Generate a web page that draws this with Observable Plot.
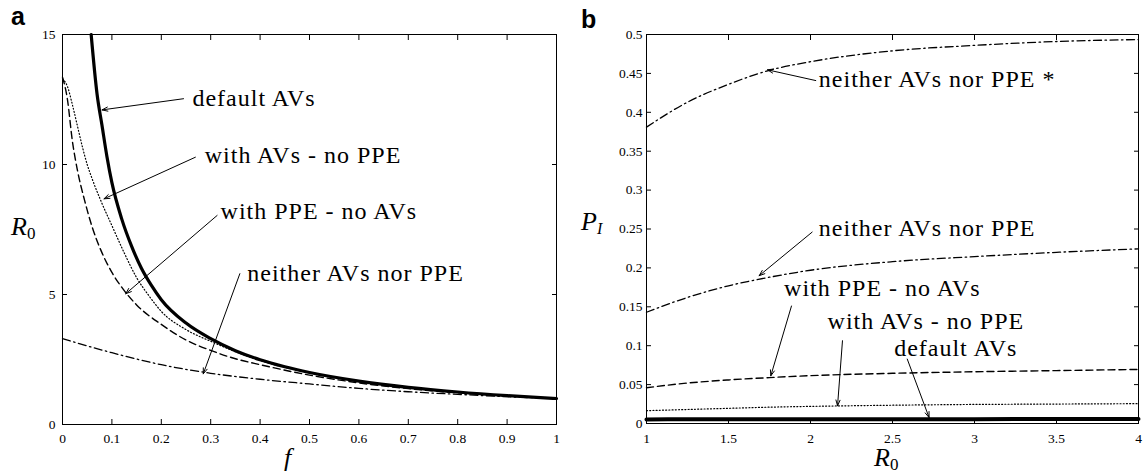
<!DOCTYPE html>
<html><head><meta charset="utf-8">
<script src="https://cdn.jsdelivr.net/npm/d3@7"></script>
<script src="https://cdn.jsdelivr.net/npm/@observablehq/plot@0.6"></script>
<style>
body{margin:0;background:#fff}
#wrap{position:relative;width:1145px;height:474px;overflow:hidden;background:#fff}
#wrap > svg{position:absolute;top:0;margin:0}
#wrap svg text:not(.sans){font-family:"Liberation Serif","Times New Roman",serif !important}
#wrap svg text.sans{font-family:"Liberation Sans",Arial,sans-serif !important}
g[aria-label="text"] text{letter-spacing:1px}
</style></head><body><div id="wrap"></div>
<script>
// ---------- Panel a data (x: f, y: R0) ----------
const xTicksA = [0, 0.1, 0.2, 0.3, 0.4, 0.5, 0.6, 0.7, 0.8, 0.9, 1];
const yTicksA = [0, 5, 10, 15];

const fDef  = [0.058, 0.07, 0.08, 0.09, 0.1, 0.12, 0.14, 0.16, 0.18, 0.2, 0.25, 0.3, 0.35, 0.4, 0.45, 0.5, 0.6, 0.7, 0.8, 0.9, 1.0];
const r0Def = [15.0, 12.7, 11.5, 10.3, 9.3, 7.9, 6.85, 6.0, 5.35, 4.8, 3.9, 3.3, 2.84, 2.49, 2.22, 2.0, 1.67, 1.43, 1.25, 1.11, 1.0];

const fAv  = [0, 0.01, 0.02, 0.03, 0.04, 0.05, 0.06, 0.08, 0.1, 0.125, 0.15, 0.175, 0.2, 0.25, 0.3, 0.35, 0.4, 0.5, 0.6, 0.7, 0.8, 0.9, 1.0];
const r0Av = [13.3, 13.0, 12.3, 11.5, 10.7, 10.0, 9.45, 8.5, 7.65, 6.6, 5.65, 4.95, 4.35, 3.65, 3.2, 2.8, 2.46, 1.99, 1.66, 1.42, 1.24, 1.11, 1.0];

const fPpe  = [0, 0.01, 0.02, 0.03, 0.045, 0.06, 0.08, 0.1, 0.125, 0.15, 0.2, 0.25, 0.3, 0.35, 0.4, 0.5, 0.6, 0.7, 0.8, 0.9, 1.0];
const r0Ppe = [13.36, 12.5, 10.9, 9.8, 8.6, 7.6, 6.6, 5.85, 5.15, 4.6, 3.85, 3.25, 2.85, 2.53, 2.3, 1.9, 1.6, 1.38, 1.22, 1.1, 1.0];

const fNei  = [0, 0.1, 0.2, 0.3, 0.4, 0.5, 0.6, 0.7, 0.8, 0.9, 1.0];
const r0Nei = [3.3, 2.76, 2.3, 1.97, 1.74, 1.56, 1.39, 1.26, 1.16, 1.07, 1.0];

const labelsA = ["default AVs", "with AVs - no PPE", "with PPE - no AVs", "neither AVs nor PPE"];
const labelXA = [0.263, 0.288, 0.320, 0.374];
const labelYA = [12.55, 10.37, 8.19, 5.82];
const arrowFromXA = [0.245, 0.269, 0.313, 0.359];
const arrowFromYA = [12.53, 10.28, 8.04, 5.80];
const arrowToXA   = [0.080, 0.084, 0.128, 0.285];
const arrowToYA   = [12.10, 8.68, 5.03, 1.95];

// ---------- Panel b data (x: R0, y: P_I) ----------
const xTicksB = [1, 1.5, 2, 2.5, 3, 3.5, 4];
const yTicksB = [0, 0.05, 0.1, 0.15, 0.2, 0.25, 0.3, 0.35, 0.4, 0.45, 0.5];

const r0B      = [1, 1.25, 1.5, 1.75, 2, 2.5, 3, 3.5, 4];
const pNeiStar = [0.381, 0.413, 0.436, 0.454, 0.465, 0.479, 0.486, 0.491, 0.4935];
const pNei     = [0.143, 0.162, 0.177, 0.188, 0.197, 0.208, 0.2145, 0.220, 0.2245];
const pPpe     = [0.046, 0.052, 0.056, 0.059, 0.0615, 0.0645, 0.0665, 0.068, 0.0695];
const pAv      = [0.0165, 0.018, 0.0195, 0.021, 0.022, 0.0235, 0.0245, 0.025, 0.0255];
const pDef     = [0.0053, 0.0054, 0.0054, 0.0055, 0.0055, 0.0056, 0.0056, 0.0057, 0.0057];

const labelsB = ["neither AVs nor PPE *", "neither AVs nor PPE", "with PPE - no AVs", "with AVs - no PPE", "default AVs"];
const labelXB = [2.051, 2.051, 1.839, 2.104, 2.51];
const labelYB = [0.4426, 0.251, 0.1738, 0.1308, 0.0966];
const arrowFromXB = [2.032, 2.01, 1.884, 2.195, 2.59];
const arrowFromYB = [0.4408, 0.246, 0.151, 0.1064, 0.0828];
const arrowToXB   = [1.738, 1.687, 1.758, 2.165, 2.723];
const arrowToYB   = [0.4546, 0.190, 0.0613, 0.0228, 0.0077];

// ---------- helpers ----------
const zip = (xs, ys) => xs.map((x, i) => ({x, y: ys[i]}));
const fmt = d => String(+d.toFixed(2));
const serif = "Liberation Serif, serif";
const style = {fontFamily: serif, fontSize: "13.5px", color: "black", background: "transparent", overflow: "visible"};
const annot = (labels, xs, ys) => labels.map((label, i) => ({label, x: xs[i], y: ys[i]}));
const arrows = (x1, y1, x2, y2) => x1.map((_, i) => ({x1: x1[i], y1: y1[i], x2: x2[i], y2: y2[i]}));

function frameAxes(xt, yt, padX, padY) {
  return [
    Plot.frame({stroke: "black", strokeWidth: 1}),
    Plot.axisX({anchor: "bottom", ticks: xt, tickSize: -5, tickPadding: padX, tickFormat: fmt, label: null}),
    Plot.axisX({anchor: "top", ticks: xt, tickSize: -5, tickFormat: () => "", label: null}),
    Plot.axisY({anchor: "left", ticks: yt, tickSize: -5, tickPadding: padY, tickFormat: fmt, label: null}),
    Plot.axisY({anchor: "right", ticks: yt, tickSize: -5, tickFormat: () => "", label: null})
  ];
}

const solid = w => ({x: "x", y: "y", stroke: "black", strokeWidth: w, curve: "monotone-x"});
const dashed = {x: "x", y: "y", stroke: "black", strokeWidth: 1.4, strokeDasharray: "7,4", curve: "monotone-x"};
const dotted = {x: "x", y: "y", stroke: "black", strokeWidth: 1.2, strokeDasharray: "1,2.2", curve: "monotone-x"};
const dashdot = {x: "x", y: "y", stroke: "black", strokeWidth: 1.3, strokeDasharray: "8,3.5,1.5,3.5", curve: "monotone-x"};
const arrowOpts = {x1: "x1", y1: "y1", x2: "x2", y2: "y2", stroke: "black", strokeWidth: 1, headLength: 9, headAngle: 40};
const textOpts = {x: "x", y: "y", text: "label", textAnchor: "start", fontSize: 24, fill: "black"};

const plotA = Plot.plot({
  width: 572, height: 474,
  marginLeft: 62, marginRight: 16, marginTop: 34, marginBottom: 50,
  x: {domain: [0, 1]}, y: {domain: [0, 15]},
  style,
  marks: [
    ...frameAxes(xTicksA, yTicksA, 14, 12),
    Plot.line(zip(fNei, r0Nei), dashdot),
    Plot.line(zip(fPpe, r0Ppe), dashed),
    Plot.line(zip(fAv, r0Av), dotted),
    Plot.line(zip(fDef, r0Def), solid(3.2)),
    Plot.arrow(arrows(arrowFromXA, arrowFromYA, arrowToXA, arrowToYA), arrowOpts),
    Plot.text(annot(labelsA, labelXA, labelYA), textOpts)
  ]
});

const plotB = Plot.plot({
  width: 573, height: 474,
  marginLeft: 74, marginRight: 7, marginTop: 34, marginBottom: 51,
  x: {domain: [1, 4]}, y: {domain: [0, 0.5]},
  style,
  marks: [
    ...frameAxes(xTicksB, yTicksB, 15, 9),
    Plot.line(zip(r0B, pNeiStar), dashdot),
    Plot.line(zip(r0B, pNei), dashdot),
    Plot.line(zip(r0B, pPpe), dashed),
    Plot.line(zip(r0B, pAv), dotted),
    Plot.line(zip(r0B, pDef), solid(4)),
    Plot.arrow(arrows(arrowFromXB, arrowFromYB, arrowToXB, arrowToYB), arrowOpts),
    Plot.text(annot(labelsB, labelXB, labelYB), textOpts)
  ]
});

const wrap = document.getElementById("wrap");
plotA.style.left = "0px";
plotB.style.left = "572px";
wrap.appendChild(plotA);
wrap.appendChild(plotB);

// panel letters and axis titles
const ns = "http://www.w3.org/2000/svg";
const ov = document.createElementNS(ns, "svg");
ov.setAttribute("width", 1145); ov.setAttribute("height", 474);
ov.style.position = "absolute"; ov.style.left = "0px"; ov.style.top = "0px"; ov.style.pointerEvents = "none";
ov.innerHTML = `
<text class="sans" x="11" y="25" font-weight="bold" font-size="25">a</text>
<text class="sans" x="581" y="28" font-weight="bold" font-size="25">b</text>
<text x="11" y="235" font-style="italic" font-size="26">R<tspan font-style="normal" font-size="17" dy="4">0</tspan></text>
<text x="284" y="466" font-style="italic" font-size="26">f</text>
<text x="581" y="230" font-style="italic" font-size="26">P<tspan font-size="16" dy="4">I</tspan></text>
<text x="874" y="466" font-style="italic" font-size="26">R<tspan font-style="normal" font-size="17" dy="4">0</tspan></text>`;
wrap.appendChild(ov);
</script></body></html>
